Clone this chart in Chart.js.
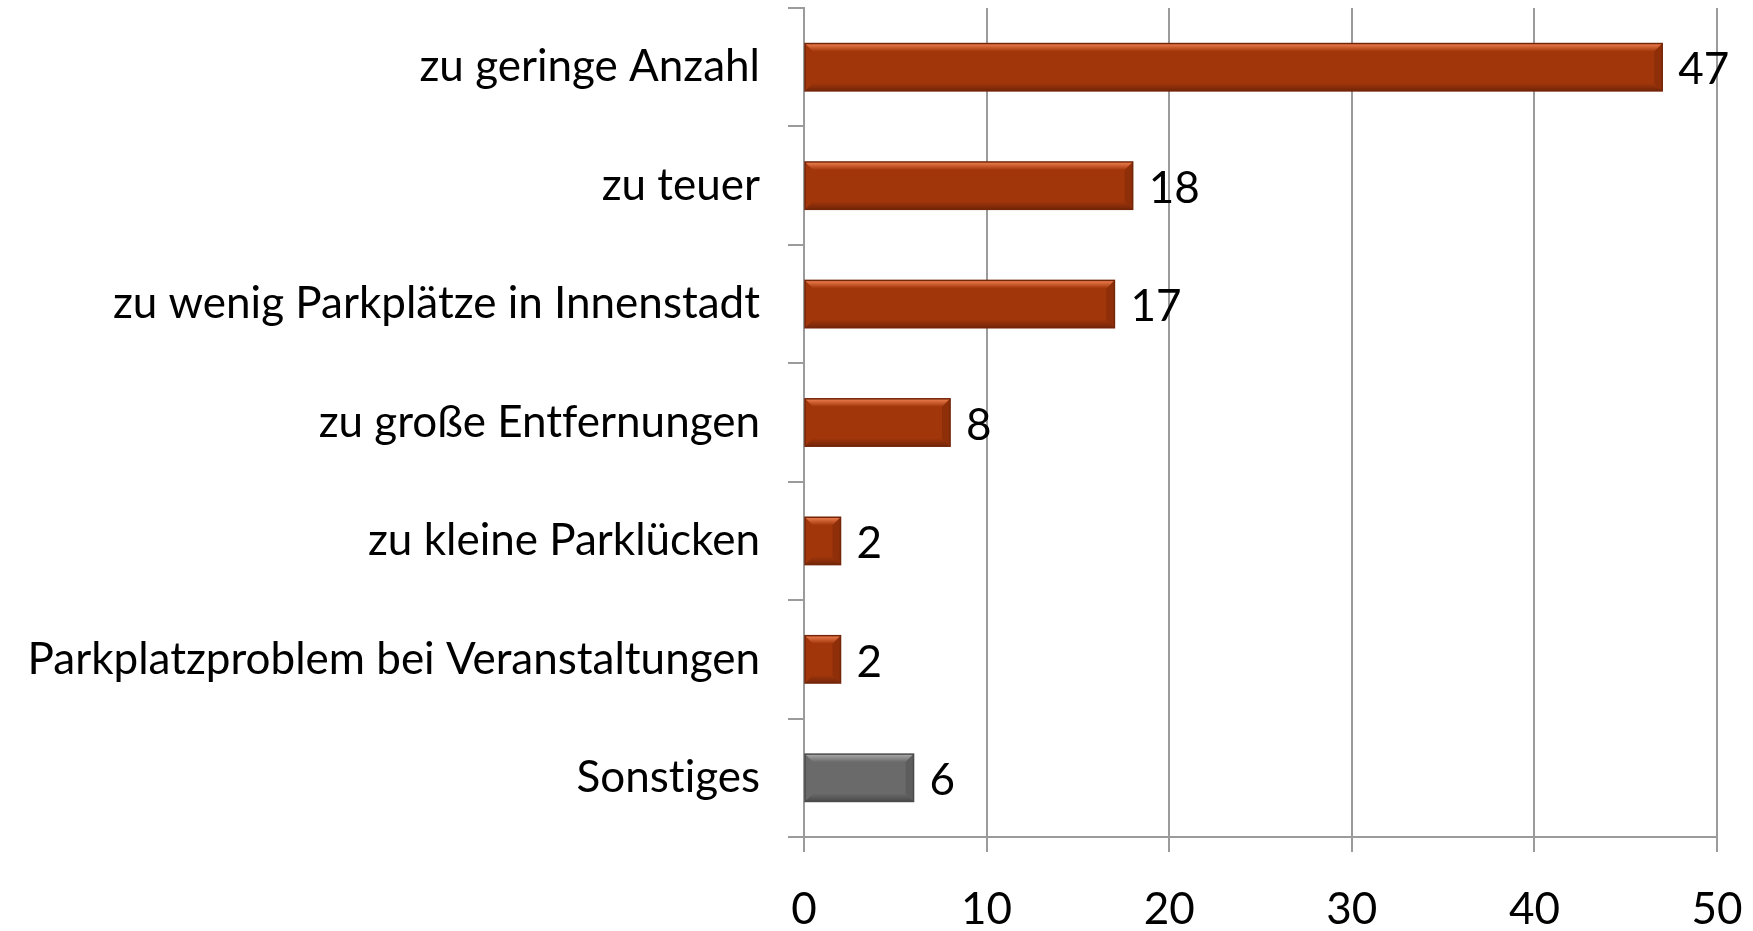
<!DOCTYPE html>
<html>
<head>
<meta charset="utf-8">
<script src="https://cdn.jsdelivr.net/npm/chart.js@4/dist/chart.umd.min.js"></script>
<style>
  html, body { margin: 0; padding: 0; background: #fff; }
  #wrap { width: 1753px; height: 931px; }
</style>
</head>
<body>
<div id="wrap"><canvas id="c" width="1753" height="931"></canvas></div>
<script>
const categories = [
    "zu geringe Anzahl",
    "zu teuer",
    "zu wenig Parkplätze in Innenstadt",
    "zu große Entfernungen",
    "zu kleine Parklücken",
    "Parkplatzproblem bei Veranstaltungen",
    "Sonstiges"
];
const counts = [47, 18, 17, 8, 2, 2, 6];
const xTicks = [0, 10, 20, 30, 40, 50];

const orange = {base: "#A1360A", light: "#F08050", dark: "#74260A"};
const grey = {base: "#6A6A6A", light: "#ABABAB", dark: "#4A4A4A"};
const barStyles = categories.map(c => c === "Sonstiges" ? grey : orange);

const FONT = "Lato";
const gridColor = "#9B9B9B";

// no "ti" ligatures from Lato
const noLigatures = {
    id: "noLigatures",
    beforeDraw(chart) {
        if ("textRendering" in chart.ctx) chart.ctx.textRendering = "optimizeSpeed";
    }
};

// bevel look + value labels, drawn on top of the library's bar elements
const bevelPlugin = {
    id: "bevel",
    afterDatasetsDraw(chart) {
        const ctx = chart.ctx;
        const meta = chart.getDatasetMeta(0);
        meta.data.forEach((bar, i) => {
            const st = barStyles[i];
            const x0 = bar.base, x1 = bar.x;
            const h = bar.height;
            const top = bar.y - h / 2, bot = bar.y + h / 2;
            const b = Math.min(8, (x1 - x0) / 3);
            ctx.save();
            // top highlight
            let g = ctx.createLinearGradient(0, top, 0, top + b);
            g.addColorStop(0, st.light);
            g.addColorStop(1, st.base);
            ctx.fillStyle = g;
            ctx.beginPath();
            ctx.moveTo(x0, top); ctx.lineTo(x1, top);
            ctx.lineTo(x1 - b, top + b); ctx.lineTo(x0 + b, top + b);
            ctx.closePath(); ctx.fill();
            // bottom shade
            g = ctx.createLinearGradient(0, bot - b, 0, bot);
            g.addColorStop(0, st.base);
            g.addColorStop(1, st.dark);
            ctx.fillStyle = g;
            ctx.beginPath();
            ctx.moveTo(x0, bot); ctx.lineTo(x1, bot);
            ctx.lineTo(x1 - b, bot - b); ctx.lineTo(x0 + b, bot - b);
            ctx.closePath(); ctx.fill();
            // right side
            ctx.fillStyle = st.dark;
            ctx.globalAlpha = 0.4;
            ctx.beginPath();
            ctx.moveTo(x1, top); ctx.lineTo(x1, bot);
            ctx.lineTo(x1 - b, bot - b); ctx.lineTo(x1 - b, top + b);
            ctx.closePath(); ctx.fill();
            ctx.globalAlpha = 1;
            ctx.strokeStyle = st.dark;
            ctx.lineWidth = 1.5;
            ctx.strokeRect(x0, top, x1 - x0, h);
            // value label
            ctx.fillStyle = "#000";
            ctx.font = "44px " + FONT;
            ctx.textAlign = "left";
            ctx.textBaseline = "middle";
            ctx.fillText(String(counts[i]), x1 + 16, bar.y + 3);
            ctx.restore();
        });
    }
};

new Chart(document.getElementById("c"), {
    type: "bar",
    data: {
        labels: categories,
        datasets: [{
            data: counts,
            backgroundColor: barStyles.map(s => s.base),
            borderWidth: 0,
            barPercentage: 0.4,
            categoryPercentage: 1.0
        }]
    },
    options: {
        indexAxis: "y",
        responsive: false,
        animation: false,
        layout: {padding: {top: 8, right: 36, left: 0, bottom: 0}},
        plugins: {legend: {display: false}, tooltip: {enabled: false}},
        scales: {
            x: {
                min: 0,
                max: 50,
                afterBuildTicks: (s) => { s.ticks = xTicks.map(v => ({value: v})); },
                afterFit: (s) => { s.height = 94; s.paddingRight = 0; s.paddingLeft = 0; },
                grid: {color: gridColor, lineWidth: 2, tickLength: 15, drawTicks: true},
                border: {color: gridColor, width: 2},
                ticks: {color: "#000", font: {family: FONT, size: 44}, padding: 31}
            },
            y: {
                afterFit: (s) => { s.width = 804; s.paddingTop = 0; s.paddingBottom = 0; },
                grid: {drawOnChartArea: false, offset: true, color: gridColor, lineWidth: 2, tickLength: 16},
                border: {color: gridColor, width: 2},
                ticks: {color: "#000", font: {family: FONT, size: 44}, padding: 28}
            }
        }
    },
    plugins: [noLigatures, bevelPlugin]
});
</script>
</body>
</html>
